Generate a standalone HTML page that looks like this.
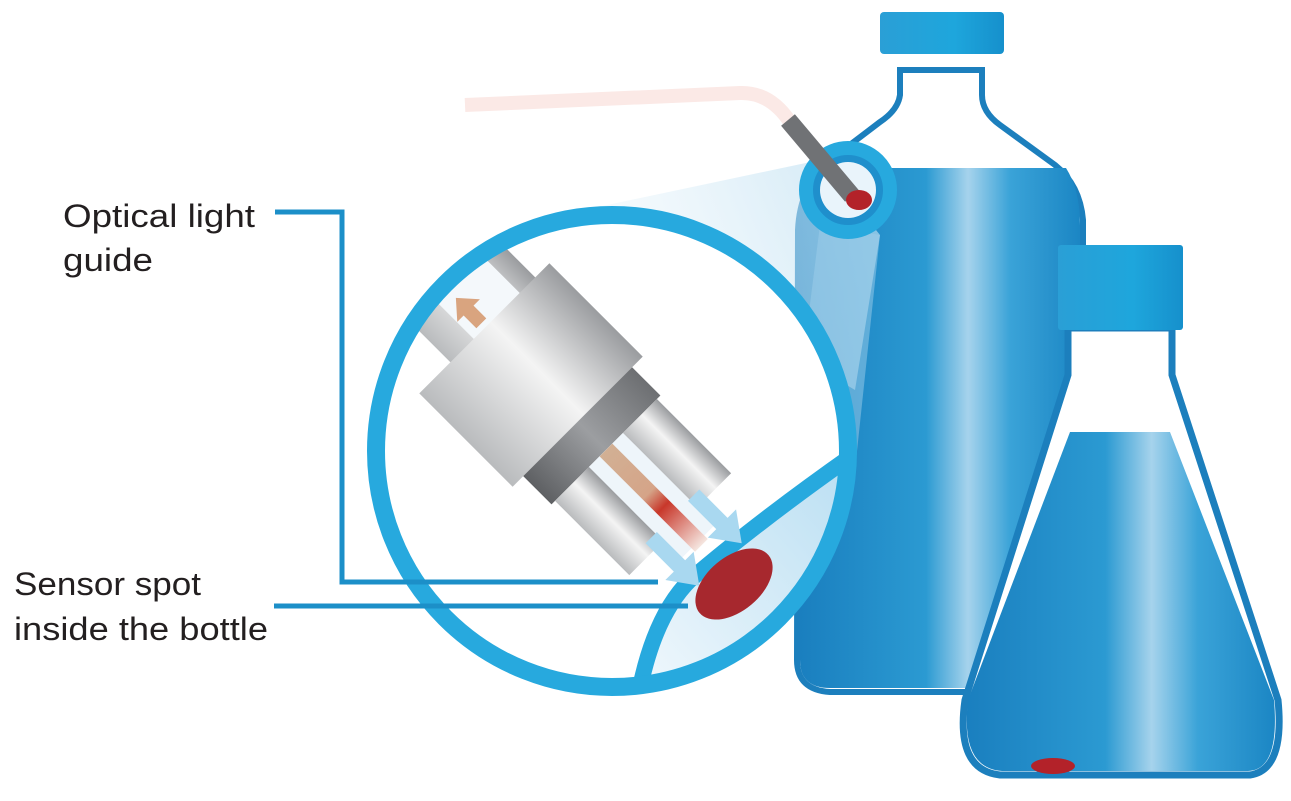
<!DOCTYPE html>
<html><head><meta charset="utf-8"><style>
html,body{margin:0;padding:0;background:#fff;width:1291px;height:801px;overflow:hidden}
svg{display:block}
text{font-family:"Liberation Sans",sans-serif;fill:#231f20;font-size:32px}
</style></head><body>
<svg width="1291" height="801" viewBox="0 0 1291 801" xmlns="http://www.w3.org/2000/svg">
<defs>
<linearGradient id="liq" x1="0" x2="1" y1="0" y2="0">
<stop offset="0" stop-color="#1a7fbf"/><stop offset="0.45" stop-color="#2b9ad2"/><stop offset="0.6" stop-color="#a6d3ec"/><stop offset="0.75" stop-color="#3aa3d8"/><stop offset="1" stop-color="#1b86c4"/>
</linearGradient>
<linearGradient id="cap" x1="0" x2="1"><stop offset="0" stop-color="#2a9fd6"/><stop offset="0.6" stop-color="#1ea6dc"/><stop offset="1" stop-color="#1690cc"/></linearGradient>
<linearGradient id="metal" x1="0" x2="0" y1="0" y2="1"><stop offset="0" stop-color="#9a9c9f"/><stop offset="0.45" stop-color="#f4f4f4"/><stop offset="1" stop-color="#b9bbbd"/></linearGradient>
<linearGradient id="dark" x1="0" x2="0" y1="0" y2="1"><stop offset="0" stop-color="#6d6f72"/><stop offset="0.5" stop-color="#9c9ea1"/><stop offset="1" stop-color="#5e6063"/></linearGradient>
<linearGradient id="cone" x1="1" x2="0" y1="0" y2="0.3"><stop offset="0" stop-color="#b7dcf0"/><stop offset="1" stop-color="#eaf5fb" stop-opacity="0.4"/></linearGradient>
<linearGradient id="pale" x1="1" x2="0" y1="0" y2="1"><stop offset="0" stop-color="#b8def2"/><stop offset="1" stop-color="#f3f9fd"/></linearGradient>
<linearGradient id="redg" x1="0" x2="1"><stop offset="0" stop-color="#d2b094"/><stop offset="0.45" stop-color="#d5a488"/><stop offset="0.6" stop-color="#c8372a"/><stop offset="1" stop-color="#f5e6e0"/></linearGradient>
<clipPath id="circ"><circle cx="612" cy="451" r="236"/></clipPath>
</defs>

<path d="M465 105 L740 93 Q770 92 790 122" fill="none" stroke="#fbe9e6" stroke-width="14"/>

<path d="M900 70 L900 95 Q898 110 880 122 L830 160 Q800 185 798 230 L797 660 Q797 690 830 692 L1050 692 Q1083 690 1083 660 L1083 220 Q1080 185 1055 165 L1000 125 Q982 112 982 95 L982 70 Z" fill="#fff" stroke="#1c7fbd" stroke-width="6"/>
<path d="M805 168 L1066 168 Q1080 190 1080 225 L1080 660 Q1080 688 1050 688 L830 688 Q800 688 800 660 L800 230 Q800 195 805 168 Z" fill="url(#liq)"/>
<rect x="880" y="12" width="124" height="42" rx="4" fill="url(#cap)"/>

<path d="M1068 328 L1068 375 L965 700 Q955 770 1000 775 L1250 775 Q1285 770 1278 700 L1172 375 L1172 328 Z" fill="#fff" stroke="#1c7fbd" stroke-width="7"/>
<path d="M1070 432 L1170 432 L1274 700 Q1280 770 1248 771 L1002 771 Q960 768 968 700 Z" fill="url(#liq)"/>
<rect x="1058" y="245" width="125" height="85" rx="3" fill="url(#cap)"/>
<ellipse cx="1053" cy="766" rx="22" ry="8" fill="#b32229"/>

<path d="M820 160 L560 215 L855 390 L880 235 Z" fill="url(#cone)" opacity="0.7"/>
<path d="M820 225 L808 320 L800 380 L808 470 L855 470 L880 235 Z" fill="#9dcdea" opacity="0.5"/>

<circle cx="848" cy="190" r="42" fill="#1f8fcc"/>
<circle cx="848" cy="190" r="28" fill="#e9f4fb"/>
<circle cx="848" cy="190" r="42" fill="none" stroke="#27a9de" stroke-width="14"/>
<path d="M788 120 L852 196" stroke="#707275" stroke-width="18"/>
<ellipse cx="859" cy="200" rx="13" ry="10" fill="#b32229"/>

<circle cx="612" cy="451" r="236" fill="#fff"/>
<g clip-path="url(#circ)">
<path d="M636 710 Q650 620 690 580 Q760 520 860 450 L860 710 Z" fill="url(#pale)"/>
<path d="M636 710 Q650 620 690 580 Q760 520 860 450" fill="none" stroke="#27a9de" stroke-width="16"/>
<g transform="translate(531 375) rotate(45)">
<rect x="-170" y="-72" width="110" height="120" fill="url(#metal)"/>
<rect x="-160" y="-50" width="95" height="65" fill="#f4f8fb"/>
<rect x="-66" y="-92" width="132" height="184" fill="url(#metal)"/>
<rect x="66" y="-77" width="40" height="154" fill="url(#dark)"/>
<rect x="106" y="-72" width="105" height="48" fill="url(#metal)"/>
<rect x="106" y="24" width="105" height="48" fill="url(#metal)"/>
<rect x="106" y="-24" width="130" height="48" fill="#eef5fa"/>
<rect x="106" y="-9" width="135" height="18" fill="url(#redg)"/>
<path d="M200 -38 L240 -38 L240 -50 L268 -30 L240 -10 L240 -22 L200 -22 Z" fill="#a9d8f0"/>
<path d="M200 22 L240 22 L240 10 L268 30 L240 50 L240 38 L200 38 Z" fill="#a9d8f0"/>
</g>
<g transform="translate(470 312) rotate(-45)"><path d="M-7 16 L7 16 L7 -2 L16 -2 L0 -20 L-16 -2 L-7 -2 Z" fill="#d9a47f"/></g>
<ellipse cx="734" cy="584" rx="45" ry="27" transform="rotate(-40 734 584)" fill="#a7282e"/>
</g>
<circle cx="612" cy="451" r="236" fill="none" stroke="#27a9de" stroke-width="18"/>

<path d="M275 212 L342 212 L342 582 L658 582" fill="none" stroke="#1c8fc8" stroke-width="5"/>
<path d="M274 606 L688 606" fill="none" stroke="#1c8fc8" stroke-width="5"/>

<text x="63" y="227" textLength="192" lengthAdjust="spacingAndGlyphs">Optical light</text>
<text x="63" y="271" textLength="90" lengthAdjust="spacingAndGlyphs">guide</text>
<text x="14" y="595" textLength="187" lengthAdjust="spacingAndGlyphs">Sensor spot</text>
<text x="14" y="640" textLength="254" lengthAdjust="spacingAndGlyphs">inside the bottle</text>
</svg>
</body></html>
